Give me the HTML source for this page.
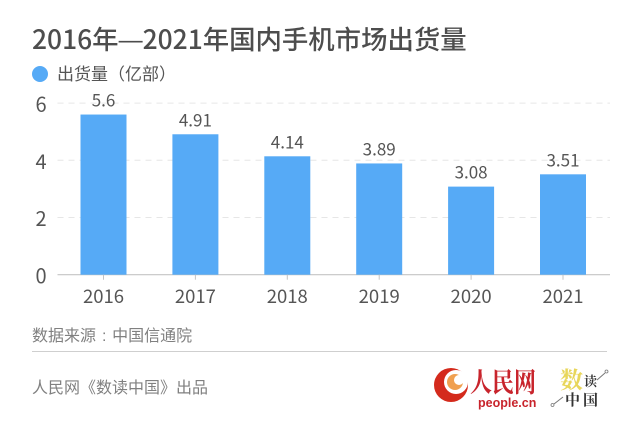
<!DOCTYPE html>
<html lang="zh">
<head>
<meta charset="utf-8">
<title>2016年—2021年国内手机市场出货量</title>
<style>
html,body{margin:0;padding:0;background:#fff;}
body{width:640px;height:427px;overflow:hidden;position:relative;font-family:"Liberation Sans","Noto Sans CJK SC",sans-serif;}
svg{position:absolute;left:0;top:0;}
text{font-family:"Noto Sans CJK SC","Liberation Sans",sans-serif;}
</style>
</head>
<body>
<svg id="chart" width="640" height="427" viewBox="0 0 640 427">
  <text x="32" y="49" font-size="26.4" font-weight="500" fill="#4d4d4d">2016年<tspan style="font-family:'Liberation Sans',sans-serif" font-size="24" dy="-1">—</tspan><tspan dy="1">2021年国内手机市场出货量</tspan></text>
  <circle cx="40" cy="74" r="8" fill="#56aaf6"></circle>
  <text x="57" y="80" font-size="17" fill="#555">出货量（亿部）</text>
  <g id="grid"></g>
  <g id="bars"></g>
  <g id="labels"></g>
  <text x="32" y="341" font-size="16" fill="#808080">数据来源<tspan dx="6" style="font-family:'Liberation Sans',sans-serif">:</tspan><tspan dx="5.6">中国信通院</tspan></text>
  <line x1="32" x2="607" y1="351.5" y2="351.5" stroke="#cfcfcf" stroke-width="1"></line>
  <text x="32" y="393" font-size="16" fill="#808080">人民网《数读中国》出品</text>
  <g>
    <circle cx="451" cy="385" r="17" fill="#d42a1c"></circle>
    <circle cx="456" cy="382" r="12" fill="#fff"></circle>
    <circle cx="455" cy="382" r="8" fill="#f0a050"></circle>
    <circle cx="459" cy="380" r="5" fill="#fff"></circle>
    <text x="470" y="392" font-size="27" font-weight="700" fill="#c8242c" style="font-family:'Noto Serif CJK SC',serif" textLength="66" lengthAdjust="spacingAndGlyphs">人民网</text>
    <text x="478" y="407" font-size="12.5" font-weight="700" fill="#c8242c" style="font-family:'Liberation Sans',sans-serif">people.cn</text>
  </g>
  <g>
    <text x="560" y="388" font-size="23" font-weight="700" fill="#e8d65a" style="font-family:'Noto Serif CJK SC',serif">数</text>
    <text x="584" y="386" font-size="13" font-weight="700" fill="#333" style="font-family:'Noto Serif CJK SC',serif">读</text>
    <text x="565" y="405" font-size="15" font-weight="700" fill="#333" style="font-family:'Noto Serif CJK SC',serif">中</text>
    <text x="583" y="405" font-size="15" font-weight="700" fill="#333" style="font-family:'Noto Serif CJK SC',serif">国</text>
    <line x1="597" y1="380" x2="605" y2="373" stroke="#777" stroke-width="1"></line>
    <circle cx="606.5" cy="371.5" r="1.5" fill="none" stroke="#777" stroke-width="0.8"></circle>
    <line x1="554" y1="404" x2="563" y2="397" stroke="#777" stroke-width="1"></line>
    <circle cx="552.5" cy="405" r="1.5" fill="none" stroke="#777" stroke-width="0.8"></circle>
  </g>
</svg>
<script>
const categories = ['2016', '2017', '2018', '2019', '2020', '2021'];
const shipments = [5.6, 4.91, 4.14, 3.89, 3.08, 3.51];
const printedValues = ['5.6', '4.91', '4.14', '3.89', '3.08', '3.51'];
const yTicks = [0, 2, 4, 6];

const NS = 'http://www.w3.org/2000/svg';
const plotLeft = 57.5, plotRight = 610, baseY = 274.7, unitPx = 28.6;
const firstCenter = 103.5, step = 91.9, barWidth = 46;
const yScale = v => baseY - v * unitPx;
const xScale = i => firstCenter + i * step;
function make(tag, parent, attrs, txt) {
  const el = document.createElementNS(NS, tag);
  for (const k in attrs) el.setAttribute(k, attrs[k]);
  if (txt !== undefined) el.textContent = txt;
  parent.appendChild(el);
  return el;
}
const grid = document.getElementById('grid');
const bars = document.getElementById('bars');
const labels = document.getElementById('labels');
yTicks.forEach(t => {
  const y = yScale(t);
  const line = make('line', grid, {x1: plotLeft, x2: plotRight, y1: y, y2: y,
    stroke: t === 0 ? '#c4c4c4' : '#e6e6e6', 'stroke-width': t === 0 ? 1.2 : 1,
    'stroke-dasharray': t === 0 ? 'none' : '6 5'});
  
  
  const lab = make('text', grid, {x: 41, y: y + 8.5, 'font-size': 20, fill: '#555', 'text-anchor': 'middle'}, String(t));
  
  
});
categories.forEach((c, i) => {
  const cx = xScale(i), top = yScale(shipments[i]);
  const bar = make('rect', bars, {x: cx - barWidth / 2, y: top, width: barWidth, height: baseY - top, fill: '#56aaf6'});
  
  
  const tick = make('line', labels, {x1: cx, x2: cx, y1: baseY, y2: baseY + 5, stroke: '#c4c4c4', 'stroke-width': 1});
  
  
  const xl = make('text', labels, {x: cx, y: 303, 'font-size': 18.5, fill: '#555', 'text-anchor': 'middle'}, c);
  
  
  const vl = make('text', labels, {x: cx, y: top - 8, 'font-size': 17, fill: '#555', 'text-anchor': 'middle'}, printedValues[i]);
  
  
});
</script>
</body>
</html>
